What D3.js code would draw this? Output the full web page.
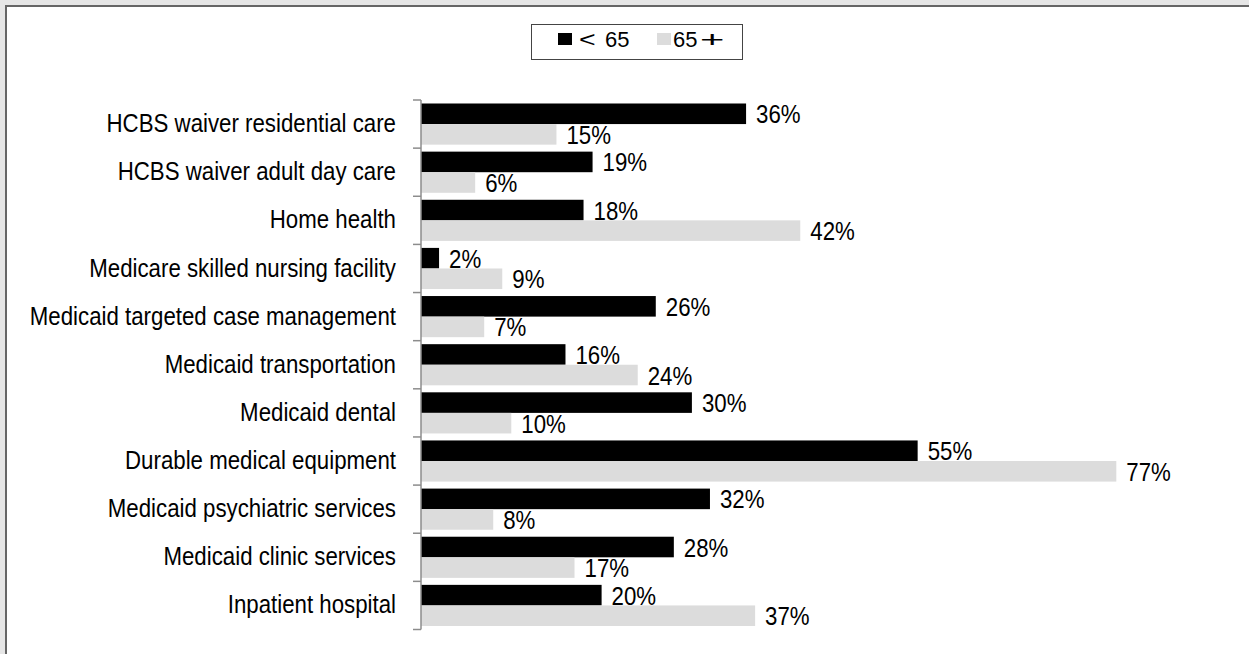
<!DOCTYPE html>
<html>
<head>
<meta charset="utf-8">
<script src="https://cdn.jsdelivr.net/npm/d3@7"></script>
<style>
  html, body { margin: 0; padding: 0; background: #e6e6e6; }
  svg { display: block; }
  text { font-family: "Liberation Sans", Arial, sans-serif; fill: #000; }
</style>
</head>
<body>
<svg id="chart" width="1249" height="654"></svg>
<script>
// Service categories, top to bottom
const categories = [
  "HCBS waiver residential care",
  "HCBS waiver adult day care",
  "Home health",
  "Medicare skilled nursing facility",
  "Medicaid targeted case management",
  "Medicaid transportation",
  "Medicaid dental",
  "Durable medical equipment",
  "Medicaid psychiatric services",
  "Medicaid clinic services",
  "Inpatient hospital"
];
// Percent of users, by age group
const under65 = [36, 19, 18, 2, 26, 16, 30, 55, 32, 28, 20];
const over65  = [15, 6, 42, 9, 7, 24, 10, 77, 8, 17, 37];
const seriesNames = ["< 65", "65+"];
const seriesColors = ["#000000", "#dcdcdc"];

// condensed look: regular sans squeezed horizontally
const FONT = 26.5, SQUEEZE = 0.84;

const svg = d3.select("#chart");

// white panel with a grey frame on the top and left
svg.append("rect").attr("x", 6).attr("y", 6).attr("width", 1249).attr("height", 654)
  .attr("fill", "#fff");
svg.append("path").attr("d", "M6,654V6H1249").attr("fill", "none")
  .attr("stroke", "#666").attr("stroke-width", 2);

const x = d3.scaleLinear().domain([0, 100]).range([421, 421 + 903]);
const y = d3.scaleBand().domain(categories).range([100, 629.5]).padding(0);
const yi = d3.scaleBand().domain([0, 1]).range([0, y.bandwidth()]).paddingOuter(0.17).paddingInner(0);

const rows = categories.map((c, i) => ({ cat: c, vals: [under65[i], over65[i]] }));

const g = svg.append("g");
const row = g.selectAll("g.row").data(rows).join("g")
  .attr("class", "row")
  .attr("transform", d => `translate(0,${y(d.cat)})`);

row.selectAll("rect").data(d => d.vals.map((v, k) => ({ v, k }))).join("rect")
  .attr("x", x(0))
  .attr("y", d => yi(d.k))
  .attr("width", d => x(d.v) - x(0))
  .attr("height", yi.bandwidth())
  .attr("fill", d => seriesColors[d.k]);

row.selectAll("text.val").data(d => d.vals.map((v, k) => ({ v, k }))).join("text")
  .attr("class", "val")
  .attr("transform", d => `translate(${x(d.v) + 10},${yi(d.k) + yi.bandwidth() / 2}) scale(${SQUEEZE},1)`)
  .attr("dy", "0.36em")
  .attr("font-size", FONT)
  .text(d => d.v + "%");

// category labels
row.append("text")
  .attr("transform", `translate(396,${y.bandwidth() / 2 - 1.5}) scale(${SQUEEZE},1)`)
  .attr("dy", "0.36em")
  .attr("text-anchor", "end")
  .attr("font-size", FONT)
  .text(d => d.cat);

// axis line and ticks at band boundaries
const edges = categories.map(c => y(c)).concat([y.range()[1]]);
g.append("line").attr("x1", x(0)).attr("x2", x(0))
  .attr("y1", y.range()[0]).attr("y2", y.range()[1])
  .attr("stroke", "#8c8c8c").attr("stroke-width", 1.5);
g.selectAll("line.tick").data(edges).join("line")
  .attr("class", "tick")
  .attr("x1", x(0) - 8).attr("x2", x(0))
  .attr("y1", d => d).attr("y2", d => d)
  .attr("stroke", "#8c8c8c").attr("stroke-width", 1.5);

// legend
const lg = svg.append("g");
lg.append("rect").attr("x", 531.5).attr("y", 24.5).attr("width", 211).attr("height", 35)
  .attr("fill", "#fff").attr("stroke", "#444").attr("stroke-width", 1);
const swatchX = [558, 657];
lg.selectAll("rect.sw").data(seriesColors).join("rect")
  .attr("class", "sw")
  .attr("x", (d, i) => swatchX[i]).attr("y", 33).attr("width", 14).attr("height", 12)
  .attr("fill", d => d);

// legend labels: the relation signs are set wide, digits plain
const legendParts = seriesNames.flatMap((name, i) =>
  name.match(/\d+|[^\s\d]+/g).map((t, j) => ({ t, i, j })));
const partX = [[579, 605], [673, 700]];
const partS = [[1.3, 1], [1, 1.9]];
lg.selectAll("text").data(legendParts).join("text")
  .attr("transform", d => `translate(${partX[d.i][d.j]},39) scale(${partS[d.i][d.j]},1)`)
  .attr("dy", "0.36em")
  .attr("font-size", 22)
  .text(d => d.t);
</script>
</body>
</html>
